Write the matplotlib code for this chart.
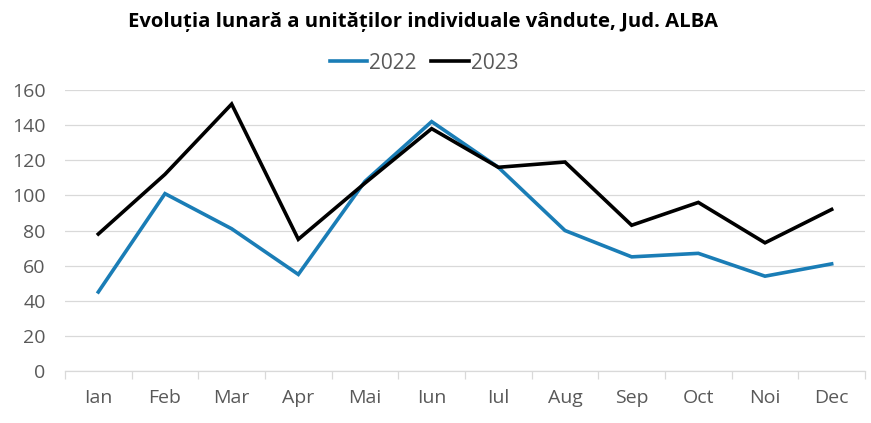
import numpy as np
import matplotlib.pyplot as plt

months = ["Ian", "Feb", "Mar", "Apr", "Mai", "Iun", "Iul", "Aug", "Sep", "Oct", "Noi", "Dec"]
sales_2022 = [45, 101, 81, 55, 108, 142, 116, 80, 65, 67, 54, 61]
sales_2023 = [78, 112, 152, 75, 107, 138, 116, 119, 83, 96, 73, 92]
yticks = [0, 20, 40, 60, 80, 100, 120, 140, 160]

plt.rcParams['font.family'] = ['Open Sans', 'DejaVu Sans']

fig = plt.figure(figsize=(8.71, 4.23), dpi=100)
ax = fig.add_axes([0.0746, 0.1229, 0.9185, 0.6643])

x = np.arange(len(months))
ax.plot(x, sales_2022, color="#1a7db6", lw=2.6, label="2022", solid_joinstyle="miter")
ax.plot(x, sales_2023, color="#000000", lw=2.6, label="2023", solid_joinstyle="miter")

ax.set_xlim(-0.5, len(months) - 0.5)
ax.set_ylim(0, 160)
ax.set_yticks(yticks)
ax.grid(axis="y", color="#d9d9d9", lw=0.9)
ax.set_axisbelow(True)

# category labels centred, tick marks between categories
ax.set_xticks(x)
ax.set_xticklabels(months)
ax.set_xticks(np.arange(-0.5, len(months)), minor=True)
ax.tick_params(axis="x", which="major", length=0, pad=13, labelsize=14, labelcolor="#595959")
ax.tick_params(axis="x", which="minor", length=6, color="#d9d9d9", width=0.9)
ax.tick_params(axis="y", length=0, pad=14, labelsize=14, labelcolor="#595959")

for s in ["top", "right", "left"]:
    ax.spines[s].set_visible(False)
ax.spines["bottom"].set_color("#d9d9d9")
ax.spines["bottom"].set_linewidth(0.9)

fig.text(0.486, 0.948, "Evoluția lunară a unităților individuale vândute, Jud. ALBA",
         ha="center", va="center", fontsize=14.6, fontweight="bold", color="#000000")
fig.legend(loc="center", bbox_to_anchor=(0.487, 0.851), ncol=2, frameon=False,
           fontsize=15, handlelength=1.8, columnspacing=0.7, handletextpad=0.1,
           labelcolor="#595959")

fig.savefig("out.png", dpi=100)
